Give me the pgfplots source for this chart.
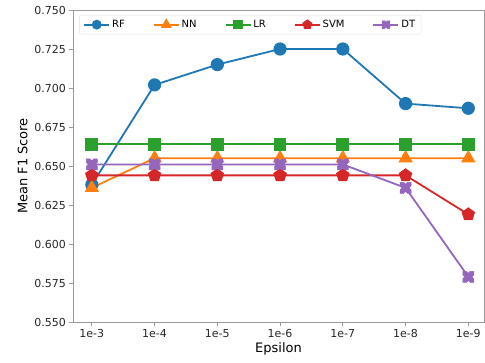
\documentclass[border=0pt]{standalone}
\usepackage{fontspec}
\setmainfont{DejaVu Sans}
\usepackage{pgfplots}
\pgfplotsset{compat=1.18}
\usetikzlibrary{plotmarks}
\definecolor{c0}{HTML}{1F77B4}
\definecolor{c1}{HTML}{FF7F0E}
\definecolor{c2}{HTML}{2CA02C}
\definecolor{c3}{HTML}{D62728}
\definecolor{c4}{HTML}{9467BD}
\pgfdeclareplotmark{Xf}{%
  \pgfpathmoveto{\pgfpoint{0pt}{0.65\pgfplotmarksize}}%
  \pgfpathlineto{\pgfpoint{0.35\pgfplotmarksize}{\pgfplotmarksize}}%
  \pgfpathlineto{\pgfpoint{\pgfplotmarksize}{\pgfplotmarksize}}%
  \pgfpathlineto{\pgfpoint{\pgfplotmarksize}{0.35\pgfplotmarksize}}%
  \pgfpathlineto{\pgfpoint{0.65\pgfplotmarksize}{0pt}}%
  \pgfpathlineto{\pgfpoint{\pgfplotmarksize}{-0.35\pgfplotmarksize}}%
  \pgfpathlineto{\pgfpoint{\pgfplotmarksize}{-\pgfplotmarksize}}%
  \pgfpathlineto{\pgfpoint{0.35\pgfplotmarksize}{-\pgfplotmarksize}}%
  \pgfpathlineto{\pgfpoint{0pt}{-0.65\pgfplotmarksize}}%
  \pgfpathlineto{\pgfpoint{-0.35\pgfplotmarksize}{-\pgfplotmarksize}}%
  \pgfpathlineto{\pgfpoint{-\pgfplotmarksize}{-\pgfplotmarksize}}%
  \pgfpathlineto{\pgfpoint{-\pgfplotmarksize}{-0.35\pgfplotmarksize}}%
  \pgfpathlineto{\pgfpoint{-0.65\pgfplotmarksize}{0pt}}%
  \pgfpathlineto{\pgfpoint{-\pgfplotmarksize}{0.35\pgfplotmarksize}}%
  \pgfpathlineto{\pgfpoint{-\pgfplotmarksize}{\pgfplotmarksize}}%
  \pgfpathlineto{\pgfpoint{-0.35\pgfplotmarksize}{\pgfplotmarksize}}%
  \pgfpathclose
  \pgfusepathqfillstroke}
\begin{document}
\begin{tikzpicture}
\begin{axis}[
  scale only axis, width=411pt, height=312pt,
  xmin=-0.3, xmax=6.25, ymin=0.55, ymax=0.75,
  xtick={0,1,2,3,4,5,6},
  xticklabels={1e-3,1e-4,1e-5,1e-6,1e-7,1e-8,1e-9},
  ytick={0.55,0.575,0.6,0.625,0.65,0.675,0.7,0.725,0.75},
  yticklabel style={/pgf/number format/fixed, /pgf/number format/fixed zerofill, /pgf/number format/precision=3},
  /pgf/number format/assume math mode=true,
  tick label style={font=\fontsize{11}{13}\selectfont, text=black!85},
  label style={font=\fontsize{13}{15}\selectfont},
  xlabel={Epsilon}, ylabel={Mean F1 Score},
  xlabel style={yshift=2pt},
  tick align=outside, xtick pos=bottom, ytick pos=left,
  major tick length=3.5pt,
  axis line style={gray!80, line width=0.9pt},
  tick style={gray!80, line width=0.8pt},
  every axis plot/.append style={line width=1.8pt},
  legend columns=5,
  legend image code/.code={%
    \draw[mark repeat=2, mark phase=2, every mark/.append style={scale=0.7}] plot coordinates {(0pt,0pt) (12.5pt,0pt) (25pt,0pt)};},
  legend style={at={(0.015,0.984)}, anchor=north west, draw=gray!25, rounded corners=2pt,
    fill=white, font=\fontsize{10}{12}\selectfont, inner xsep=4pt, inner ysep=3pt,
    /tikz/every even column/.append style={column sep=26pt}},
]
\addplot[c0, mark=*, mark size=5.7pt, mark options={solid, fill=c0, draw=c0}] coordinates {
  (0,0.638) (1,0.702) (2,0.715) (3,0.725) (4,0.725) (5,0.690) (6,0.687)};
\addlegendentry{RF}
\addplot[c1, mark=triangle*, mark size=6.5pt, mark options={solid, fill=c1, draw=c1}] coordinates {
  (0,0.636) (1,0.655) (2,0.655) (3,0.655) (4,0.655) (5,0.655) (6,0.655)};
\addlegendentry{NN}
\addplot[c2, mark=square*, mark size=5.5pt, mark options={solid, fill=c2, draw=c2}] coordinates {
  (0,0.664) (1,0.664) (2,0.664) (3,0.664) (4,0.664) (5,0.664) (6,0.664)};
\addlegendentry{LR}
\addplot[c3, mark=pentagon*, mark size=6pt, mark options={solid, fill=c3, draw=c3}] coordinates {
  (0,0.644) (1,0.644) (2,0.644) (3,0.644) (4,0.644) (5,0.644) (6,0.619)};
\addlegendentry{SVM}
\addplot[c4, mark=Xf, mark size=5.5pt, mark options={solid, fill=c4, draw=c4, line width=0.5pt}] coordinates {
  (0,0.651) (1,0.651) (2,0.651) (3,0.651) (4,0.651) (5,0.636) (6,0.579)};
\addlegendentry{DT}
\end{axis}
\pgfresetboundingbox
\path[use as bounding box] (current axis.south west) ++(-73pt,-40pt) rectangle ([shift={(1pt,10pt)}]current axis.north east);
\end{tikzpicture}
\end{document}
